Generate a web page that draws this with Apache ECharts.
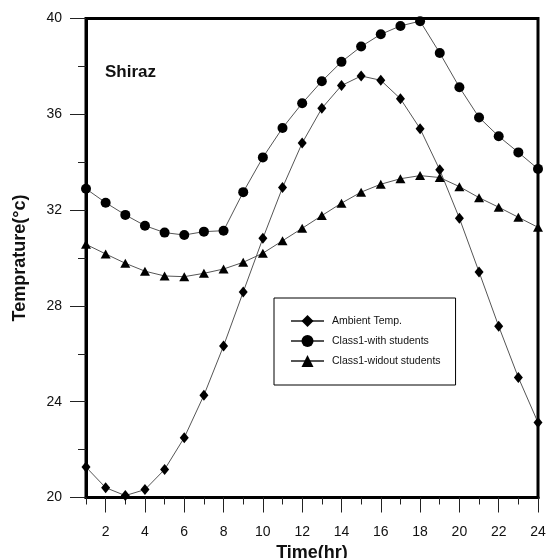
<!DOCTYPE html>
<html>
<head>
<meta charset="utf-8">
<script src="https://cdn.jsdelivr.net/npm/echarts@6/dist/echarts.min.js"></script>
<style>html,body{margin:0;padding:0;background:#fff;}#c{width:546px;height:558px;}</style>
</head>
<body>
<div id="c"></div>
<script>
var hours = ['1','2','3','4','5','6','7','8','9','10','11','12','13','14','15','16','17','18','19','20','21','22','23','24'];
var ambientTemp = [21.27,20.41,20.08,20.33,21.17,22.50,24.27,26.33,28.58,30.82,32.94,34.80,36.25,37.20,37.60,37.42,36.65,35.40,33.68,31.66,29.42,27.15,25.01,23.13];
var classWithStudents = [32.89,32.31,31.80,31.35,31.06,30.96,31.10,31.14,32.75,34.20,35.43,36.46,37.38,38.19,38.83,39.34,39.69,39.89,38.56,37.13,35.87,35.08,34.41,33.72];
var classWithoutStudents = [30.57,30.17,29.78,29.45,29.25,29.22,29.36,29.54,29.82,30.20,30.72,31.24,31.77,32.29,32.75,33.08,33.31,33.44,33.36,32.98,32.52,32.12,31.70,31.28];
var seriesNames = ['Ambient Temp.','Class1-with students','Class1-widout students'];
var yMin = 20, yMax = 40;

var font = 'Liberation Sans, Arial, sans-serif';
var chart = echarts.init(document.getElementById('c'), null, {renderer:'canvas'});
function evenIdx(i){ return i % 2 === 1; }
var lineStyle = {color:'#555', width:1};
function mk(name, data, symbol, size){
  return {name:name, type:'line', data:data, xAxisIndex:0, yAxisIndex:0,
    symbol:symbol, symbolSize:size, showSymbol:true,
    itemStyle:{color:'#000'}, lineStyle:lineStyle, z:3, animation:false};
}
chart.setOption({
  animation:false,
  title:{text:'Shiraz', left:105, top:64, padding:0,
    textStyle:{fontFamily:font, fontWeight:'bold', fontSize:17, color:'#111'}},
  grid:{left:86, right:8, top:18.5, bottom:60.5, containLabel:false, outerBoundsMode:'none',
    show:true, borderColor:'#000', borderWidth:3, backgroundColor:'transparent'},
  legend:{orient:'vertical', left:274, top:298, padding:[17,15,18,16], itemGap:8,
    itemWidth:33, itemHeight:15, borderColor:'#000', borderWidth:1, backgroundColor:'#fff',
    data:seriesNames,
    textStyle:{fontFamily:font, fontSize:10.5, color:'#111', padding:[0,0,0,3]}},
  xAxis:[
    {type:'category', data:hours, boundaryGap:false, position:'bottom',
     axisLine:{show:true, onZero:false, lineStyle:{color:'#000', width:3}},
     axisTick:{show:true, inside:false, length:7, interval:0, lineStyle:{color:'#222', width:1}},
     axisLabel:{show:false}, splitLine:{show:false}},
    {type:'category', data:hours, boundaryGap:false, position:'bottom',
     axisLine:{show:false, onZero:false},
     axisTick:{show:true, inside:false, length:15, interval:evenIdx, lineStyle:{color:'#222', width:1}},
     axisLabel:{show:true, interval:evenIdx, margin:28, fontFamily:font, fontSize:14, color:'#111'},
     splitLine:{show:false},
     name:'Time(hr)', nameLocation:'middle', nameGap:42,
     nameTextStyle:{fontFamily:font, fontWeight:'bold', fontSize:18, color:'#111', verticalAlign:'top'}}
  ],
  yAxis:[
    {type:'value', min:yMin, max:yMax, interval:2, position:'left',
     axisLine:{show:true, onZero:false, lineStyle:{color:'#000', width:3}},
     axisTick:{show:true, inside:false, length:8, lineStyle:{color:'#222', width:1}},
     axisLabel:{show:false}, splitLine:{show:false}},
    {type:'value', min:yMin, max:yMax, interval:4, position:'left',
     axisLine:{show:false, onZero:false},
     axisTick:{show:true, inside:false, length:16, lineStyle:{color:'#222', width:1}},
     axisLabel:{show:true, margin:24, fontFamily:font, fontSize:14, color:'#111'},
     splitLine:{show:false},
     name:'Temprature(°c)', nameLocation:'middle', nameGap:57,
     nameTextStyle:{fontFamily:font, fontWeight:'bold', fontSize:18, color:'#111'}}
  ],
  series:[
    mk(seriesNames[0], ambientTemp, 'diamond', [9,11]),
    mk(seriesNames[1], classWithStudents, 'circle', 10),
    mk(seriesNames[2], classWithoutStudents, 'triangle', [10,9])
  ]
});
</script>
</body>
</html>
